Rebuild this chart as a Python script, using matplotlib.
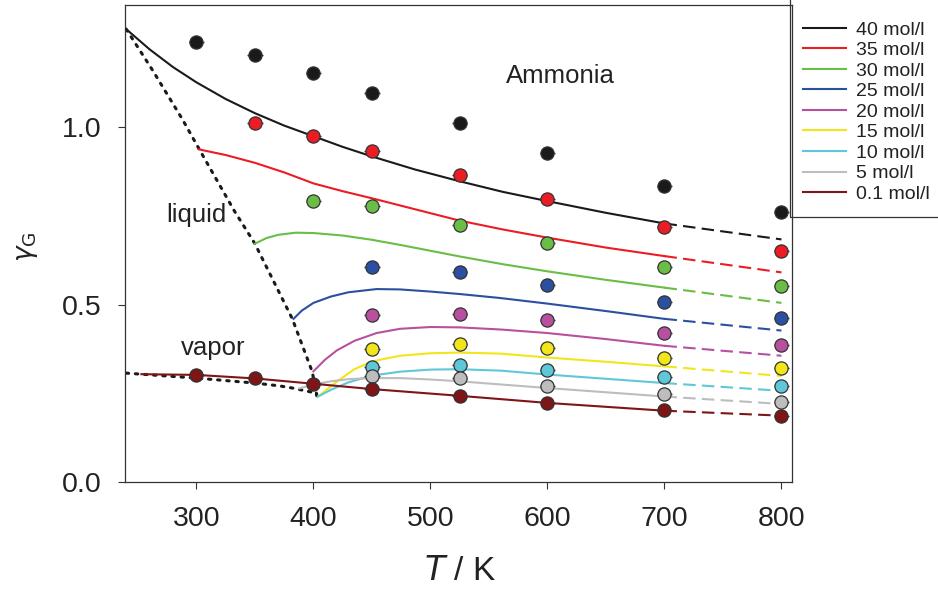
import matplotlib
matplotlib.use('Agg')
import matplotlib.pyplot as plt
from matplotlib.patches import Rectangle

plt.rcParams['font.family'] = ['Liberation Sans', 'DejaVu Sans']

# --- data ---
labels = ['40 mol/l', '35 mol/l', '30 mol/l', '25 mol/l', '20 mol/l',
          '15 mol/l', '10 mol/l', '5 mol/l', '0.1 mol/l']
colors = ['#1a1a1a', '#ec1c24', '#6abd45', '#2b50a1', '#b9509f',
          '#f2e61a', '#5ec8d8', '#bdbdbd', '#7e1517']

# measured points (T in K, gamma_G)
pts_T = [
    [300, 350, 400, 450, 525, 600, 700, 800],
    [350, 400, 450, 525, 600, 700, 800],
    [400, 450, 525, 600, 700, 800],
    [450, 525, 600, 700, 800],
    [450, 525, 600, 700, 800],
    [450, 525, 600, 700, 800],
    [450, 525, 600, 700, 800],
    [450, 525, 600, 700, 800],
    [300, 350, 400, 450, 525, 600, 700, 800],
]
pts_g = [
    [1.240, 1.203, 1.153, 1.096, 1.011, 0.929, 0.836, 0.760],
    [1.011, 0.975, 0.932, 0.867, 0.799, 0.720, 0.650],
    [0.791, 0.777, 0.726, 0.675, 0.607, 0.554],
    [0.607, 0.592, 0.556, 0.508, 0.463],
    [0.472, 0.475, 0.456, 0.420, 0.385],
    [0.376, 0.389, 0.377, 0.349, 0.322],
    [0.323, 0.331, 0.316, 0.295, 0.270],
    [0.299, 0.293, 0.272, 0.248, 0.226],
    [0.302, 0.292, 0.277, 0.262, 0.243, 0.223, 0.203, 0.186],
]
pts_err = 6.6  # small horizontal error bars in K

# model curves, solid part up to 700 K
cur_T = [
    [240, 260, 280, 300, 325, 350, 375, 400, 425, 450, 487, 525, 562, 600, 650, 700],
    [302, 325, 350, 375, 400, 425, 450, 475, 500, 525, 562, 600, 650, 700],
    [350, 360, 370, 385, 400, 425, 450, 475, 500, 525, 562, 600, 650, 700],
    [383, 390, 400, 415, 430, 454, 474, 500, 525, 559, 600, 650, 700],
    [400, 410, 420, 435, 454, 474, 500, 525, 560, 600, 650, 700],
    [404, 412, 420, 435, 450, 474, 500, 525, 560, 600, 650, 700],
    [404, 415, 430, 450, 474, 500, 525, 560, 600, 650, 700],
    [388, 400, 415, 430, 450, 474, 500, 525, 560, 600, 650, 700],
    [253, 300, 350, 400, 450, 525, 600, 700],
]
cur_g = [
    [1.277, 1.220, 1.170, 1.127, 1.080, 1.040, 1.005, 0.975, 0.945, 0.918,
     0.881, 0.848, 0.818, 0.792, 0.759, 0.729],
    [0.938, 0.922, 0.900, 0.873, 0.842, 0.820, 0.800, 0.779, 0.758, 0.737,
     0.712, 0.689, 0.661, 0.637],
    [0.672, 0.688, 0.697, 0.703, 0.702, 0.695, 0.683, 0.668, 0.652, 0.636,
     0.614, 0.594, 0.570, 0.548],
    [0.460, 0.483, 0.505, 0.523, 0.535, 0.544, 0.543, 0.537, 0.530, 0.519,
     0.503, 0.482, 0.460],
    [0.312, 0.345, 0.371, 0.398, 0.420, 0.432, 0.437, 0.436, 0.430, 0.420,
     0.403, 0.384],
    [0.241, 0.262, 0.283, 0.318, 0.340, 0.356, 0.363, 0.365, 0.362, 0.351,
     0.339, 0.326],
    [0.241, 0.260, 0.281, 0.300, 0.311, 0.317, 0.318, 0.314, 0.303, 0.291,
     0.279],
    [0.264, 0.275, 0.284, 0.290, 0.293, 0.293, 0.289, 0.284, 0.275, 0.265,
     0.253, 0.241],
    [0.304, 0.302, 0.292, 0.277, 0.262, 0.243, 0.223, 0.201],
]
# dashed extrapolation 700 -> 800 K
ext_T = [700, 800]
ext_g = [
    [0.729, 0.684],
    [0.637, 0.591],
    [0.548, 0.505],
    [0.460, 0.427],
    [0.384, 0.356],
    [0.326, 0.299],
    [0.279, 0.257],
    [0.241, 0.220],
    [0.201, 0.187],
]

# coexistence boundaries (dotted)
liq_T = [240, 262, 288, 302.5, 332.5, 350, 382, 399, 403]
liq_g = [1.277, 1.164, 1.023, 0.938, 0.764, 0.672, 0.460, 0.311, 0.243]
vap_T = [240, 300, 350, 371, 382, 402, 403]
vap_g = [0.307, 0.293, 0.279, 0.271, 0.265, 0.251, 0.243]

fig = plt.figure(figsize=(9.38, 5.94), dpi=100)
ax = fig.add_axes([125 / 938, 1 - 482 / 594, (792 - 125) / 938, (482 - 5) / 594])

ax.plot(liq_T, liq_g, color='#1a1a1a', linestyle=(0, (0.8, 2.2)),
        linewidth=2.2, dash_capstyle='round', zorder=2)
ax.plot(vap_T, vap_g, color='#1a1a1a', linestyle=(0, (0.8, 2.2)),
        linewidth=2.2, dash_capstyle='round', zorder=2)

for i in range(len(labels)):
    ax.plot(cur_T[i], cur_g[i], color=colors[i], linewidth=1.5, zorder=3)
    ax.plot(ext_T, ext_g[i], color=colors[i], linewidth=1.5,
            linestyle=(0, (6, 3)), zorder=3)
    ax.errorbar(pts_T[i], pts_g[i], xerr=pts_err, fmt='none',
                ecolor='#333333', elinewidth=1.0, capsize=0, zorder=4)
    ax.plot(pts_T[i], pts_g[i], 'o', color=colors[i], markersize=9.5,
            markeredgecolor='#333333', markeredgewidth=0.9, zorder=5)

ax.set_xlim(239, 809)
ax.set_ylim(0, 1.345)
ax.set_xticks([300, 400, 500, 600, 700, 800])
ax.set_yticks([0.0, 0.5, 1.0])
ax.set_yticklabels(['0.0', '0.5', '1.0'])
ax.tick_params(direction='out', length=5, width=0.8, labelsize=20.5,
               color='#333333', labelcolor='#222222')
ax.tick_params(axis='y', pad=12)
ax.tick_params(axis='x', pad=12)
for s in ax.spines.values():
    s.set_linewidth(0.9)
    s.set_color('#333333')

fig.text(460 / 938, 1 - 572 / 594, '$\\mathit{T}$ / K', fontsize=24,
         color='#222222', ha='center', va='center')
fig.text(27 / 938, 1 - 247 / 594, '$\\gamma_\\mathrm{G}$', fontsize=19,
         color='#222222', ha='center', va='center', rotation=90)

ax.text(611, 1.145, 'Ammonia', fontsize=18.5, ha='center', va='center', color='#222222')
ax.text(300, 0.753, 'liquid', fontsize=18.5, ha='center', va='center', color='#222222')
ax.text(314, 0.378, 'vapor', fontsize=18.5, ha='center', va='center', color='#222222')

# legend in a box attached to the right of the axes
fig.patches.append(Rectangle((790 / 938, 1 - 217 / 594), 0.3, 0.5,
                             transform=fig.transFigure, fill=False,
                             edgecolor='#333333', linewidth=0.9))
handles = [plt.Line2D([], [], color=c, linewidth=1.5) for c in colors]
fig.legend(handles, labels, loc='upper left',
           bbox_to_anchor=(803 / 938, 1 - 21 / 594), frameon=False,
           fontsize=14, handlelength=2.2, handletextpad=0.55,
           labelspacing=0.15, borderpad=0, borderaxespad=0,
           labelcolor='#222222')

fig.savefig('out.png', dpi=100)
